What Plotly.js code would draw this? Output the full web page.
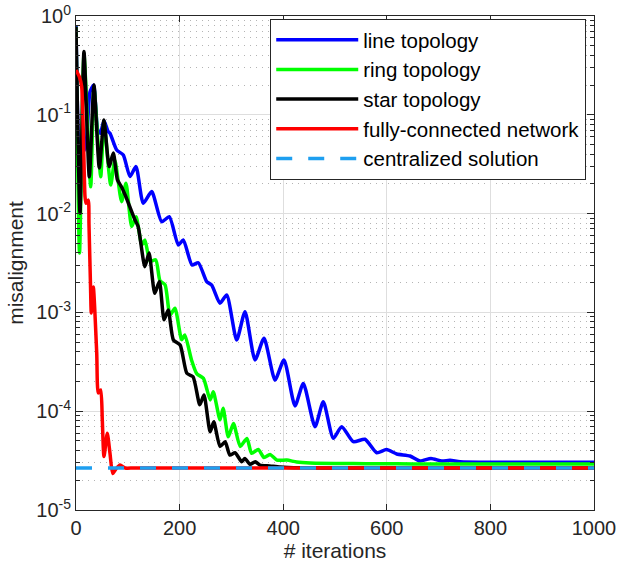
<!DOCTYPE html>
<html>
<head>
<meta charset="utf-8">
<script src="https://cdn.plot.ly/plotly-3.0.1.min.js"></script>
<style>html,body{margin:0;padding:0;background:#fff;}#chart{width:617px;height:568px;}</style>
</head>
<body>
<div id="chart"></div>
<script>
// ---- data ----
const lineIter = [0, 7, 12, 19, 27, 34, 42, 47, 54, 62, 65.6, 78.6, 91.3, 104.2, 115.8, 129.9, 146.1, 165.4, 180.1, 197.5, 207.1, 224, 236.1, 252.3, 262, 278, 290.9, 310.2, 326.3, 345.6, 363, 384.2, 401.5, 422.8, 438.8, 461.4, 477.4, 496.7, 512.9, 535.3, 557.9, 580.5, 599.4, 619.1, 644.8, 664.1, 685.3, 706, 722, 741.3, 805, 850, 900, 950, 1000];
const lineVal = [0.79, 0.03, 0.04, 0.048, 0.17, 0.2, 0.07, 0.065, 0.087, 0.0676, 0.065, 0.044, 0.0392, 0.0237, 0.0299, 0.0127, 0.0167, 0.00828, 0.0093, 0.00481, 0.0054, 0.00302, 0.00318, 0.00205, 0.00189, 0.00124, 0.0015, 0.000526, 0.001016, 0.00033, 0.000547, 0.000207, 0.00033, 0.000113, 0.000191, 6.97e-5, 0.000125, 5.32e-5, 6.97e-5, 4.91e-5, 5.2e-5, 3.8e-5, 4.09e-5, 3.69e-5, 3.52e-5, 3.13e-5, 3.33e-5, 3.13e-5, 3.18e-5, 3.08e-5, 3.04e-5, 3.04e-5, 3.04e-5, 3.04e-5, 3.04e-5];

const ringIter = [0, 6.8, 15.4, 28.4, 34.7, 47.7, 54, 67, 75, 88, 96.5, 107.5, 116, 127, 133, 143, 154, 162, 172, 181.5, 191, 204, 210, 223, 233, 246, 259, 265, 278, 284, 294, 304, 317, 330, 339, 352, 363, 374.5, 388, 407, 426, 452, 510, 560, 620, 680, 740, 800, 860, 920, 980, 1000];
const ringVal = [0.78, 0.0040, 0.403, 0.0187, 0.187, 0.0236, 0.0845, 0.0195, 0.0349, 0.0132, 0.0203, 0.0074, 0.0093, 0.0048, 0.0054, 0.0033, 0.0034, 0.0021, 0.0019, 0.00094, 0.0011, 0.00053, 0.00059, 0.00033, 0.00024, 0.000215, 0.00013, 0.000157, 8.2e-5, 0.000107, 5.5e-5, 7.5e-5, 4.4e-5, 5.3e-5, 3.75e-5, 4.1e-5, 3.4e-5, 3.65e-5, 3.2e-5, 3.2e-5, 3.06e-5, 2.99e-5, 2.96e-5, 2.94e-5, 2.93e-5, 2.92e-5, 2.92e-5, 2.92e-5, 2.92e-5, 2.92e-5, 2.92e-5, 2.92e-5];

const starIter = [0, 7.7, 15.4, 25.7, 34.7, 45, 54, 64, 72, 80, 88, 95, 104, 114, 120, 133, 141, 152, 161, 170, 178, 188, 201, 214, 226, 239, 247, 259, 266, 278, 288, 297, 307, 320, 326, 336, 346, 355, 374, 394, 432, 480, 540, 600, 660, 720, 780, 840, 900, 960, 1000];
const starVal = [0.78, 0.0101, 0.436, 0.0236, 0.200, 0.029, 0.0885, 0.0299, 0.041, 0.0219, 0.0186, 0.0154, 0.0117, 0.0086, 0.0074, 0.0029, 0.0040, 0.00156, 0.00205, 0.00084, 0.00106, 0.000526, 0.000468, 0.000242, 0.000223, 0.000116, 0.000146, 6.2e-5, 7.8e-5, 4.4e-5, 4.9e-5, 3.6e-5, 3.8e-5, 3.08e-5, 3.33e-5, 2.9e-5, 3.08e-5, 2.85e-5, 2.79e-5, 2.72e-5, 2.67e-5, 2.66e-5, 2.66e-5, 2.66e-5, 2.66e-5, 2.66e-5, 2.66e-5, 2.66e-5, 2.66e-5, 2.66e-5, 2.66e-5];

const fullIter = [0, 6.4, 11, 17.4, 19.3, 23.7, 25.1, 28, 29.5, 33.4, 40, 43, 47.7, 50.8, 54, 60.4, 65.6, 70.8, 77, 85, 95, 110, 140, 180, 240, 300, 360, 420, 480, 540, 600, 660, 720, 780, 840, 900, 960, 1000];
const fullVal = [0.284, 0.243, 0.192, 0.0148, 0.0127, 0.0137, 0.00767, 0.00189, 0.000986, 0.00181, 0.000389, 0.000153, 0.000164, 8.15e-5, 3.47e-5, 5.97e-5, 3.75e-5, 2.34e-5, 2.6e-5, 2.85e-5, 2.66e-5, 2.66e-5, 2.66e-5, 2.66e-5, 2.66e-5, 2.66e-5, 2.66e-5, 2.66e-5, 2.66e-5, 2.66e-5, 2.66e-5, 2.66e-5, 2.66e-5, 2.66e-5, 2.66e-5, 2.66e-5, 2.66e-5, 2.66e-5];

const centIter = [0, 1000];
const centVal = [2.66e-5, 2.66e-5];

const seriesNames = ['line topology', 'ring topology', 'star topology', 'fully-connected network', 'centralized solution'];
const seriesColors = ['#0000ff', '#00ff00', '#000000', '#ff0000', '#1e9ff0'];

const yTickVals = [1e-5, 1e-4, 1e-3, 1e-2, 1e-1, 1];
const yTickText = ['10<sup>-5</sup>', '10<sup>-4</sup>', '10<sup>-3</sup>', '10<sup>-2</sup>', '10<sup>-1</sup>', '10<sup>0</sup>'];
const xTickVals = [0, 200, 400, 600, 800, 1000];

// minor tick positions (2..9 per decade)
const yMinorVals = [];
for (let e = -5; e < 0; e++) for (let m = 2; m <= 9; m++) yMinorVals.push(m * Math.pow(10, e));

const xs = [lineIter, ringIter, starIter, fullIter, centIter];
const ys = [lineVal, ringVal, starVal, fullVal, centVal];

const traces = xs.map((x, i) => ({
  x: x, y: ys[i], type: 'scatter', mode: 'lines', name: seriesNames[i],
  line: {color: seriesColors[i], width: 3.5, shape: i === 4 ? 'linear' : 'spline', smoothing: 0.6,
         dash: i === 4 ? '16px,16px' : 'solid'}
}));

const FAM = 'Liberation Sans, Arial, Helvetica, sans-serif';
const tickFont = {family: FAM, size: 20, color: '#262626'};
const titleFont = {family: FAM, size: 21, color: '#262626'};

const layout = {
  width: 617, height: 568,
  margin: {l: 76, r: 23, t: 16, b: 58},
  paper_bgcolor: '#fff', plot_bgcolor: '#fff',
  font: tickFont,
  showlegend: true,
  legend: {
    x: 0.985, xanchor: 'right', y: 0.994, yanchor: 'top',
    bgcolor: '#fff', bordercolor: '#262626', borderwidth: 1,
    font: {family: FAM, size: 20.5, color: '#000'},
    traceorder: 'normal', itemwidth: 82
  },
  xaxis: {
    range: [0, 1000], tickmode: 'array', tickvals: xTickVals,
    ticks: 'inside', ticklen: 6, tickcolor: '#262626',
    showline: true, linecolor: '#262626', linewidth: 1, mirror: 'allticks',
    showgrid: true, gridcolor: '#dedede', gridwidth: 1, zeroline: false,
    tickfont: tickFont,
    title: {text: '# iterations', font: titleFont, standoff: 4}
  },
  yaxis: {
    type: 'log', range: [-5, 0], tickmode: 'array', tickvals: yTickVals, ticktext: yTickText,
    ticks: 'inside', ticklen: 7, tickcolor: '#262626',
    showline: true, linecolor: '#262626', linewidth: 1, mirror: 'allticks',
    showgrid: true, gridcolor: '#dedede', gridwidth: 1, zeroline: false,
    tickfont: tickFont,
    minor: {tickmode: 'array', tickvals: yMinorVals, ticks: 'inside', ticklen: 4, tickcolor: '#262626',
            showgrid: true, gridcolor: '#b4b4b4', gridwidth: 1, griddash: '1px,5px'},
    title: {text: 'misalignment', font: titleFont, standoff: 6}
  }
};

Plotly.newPlot('chart', traces, layout, {displayModeBar: false, staticPlot: true});
</script>
</body>
</html>
